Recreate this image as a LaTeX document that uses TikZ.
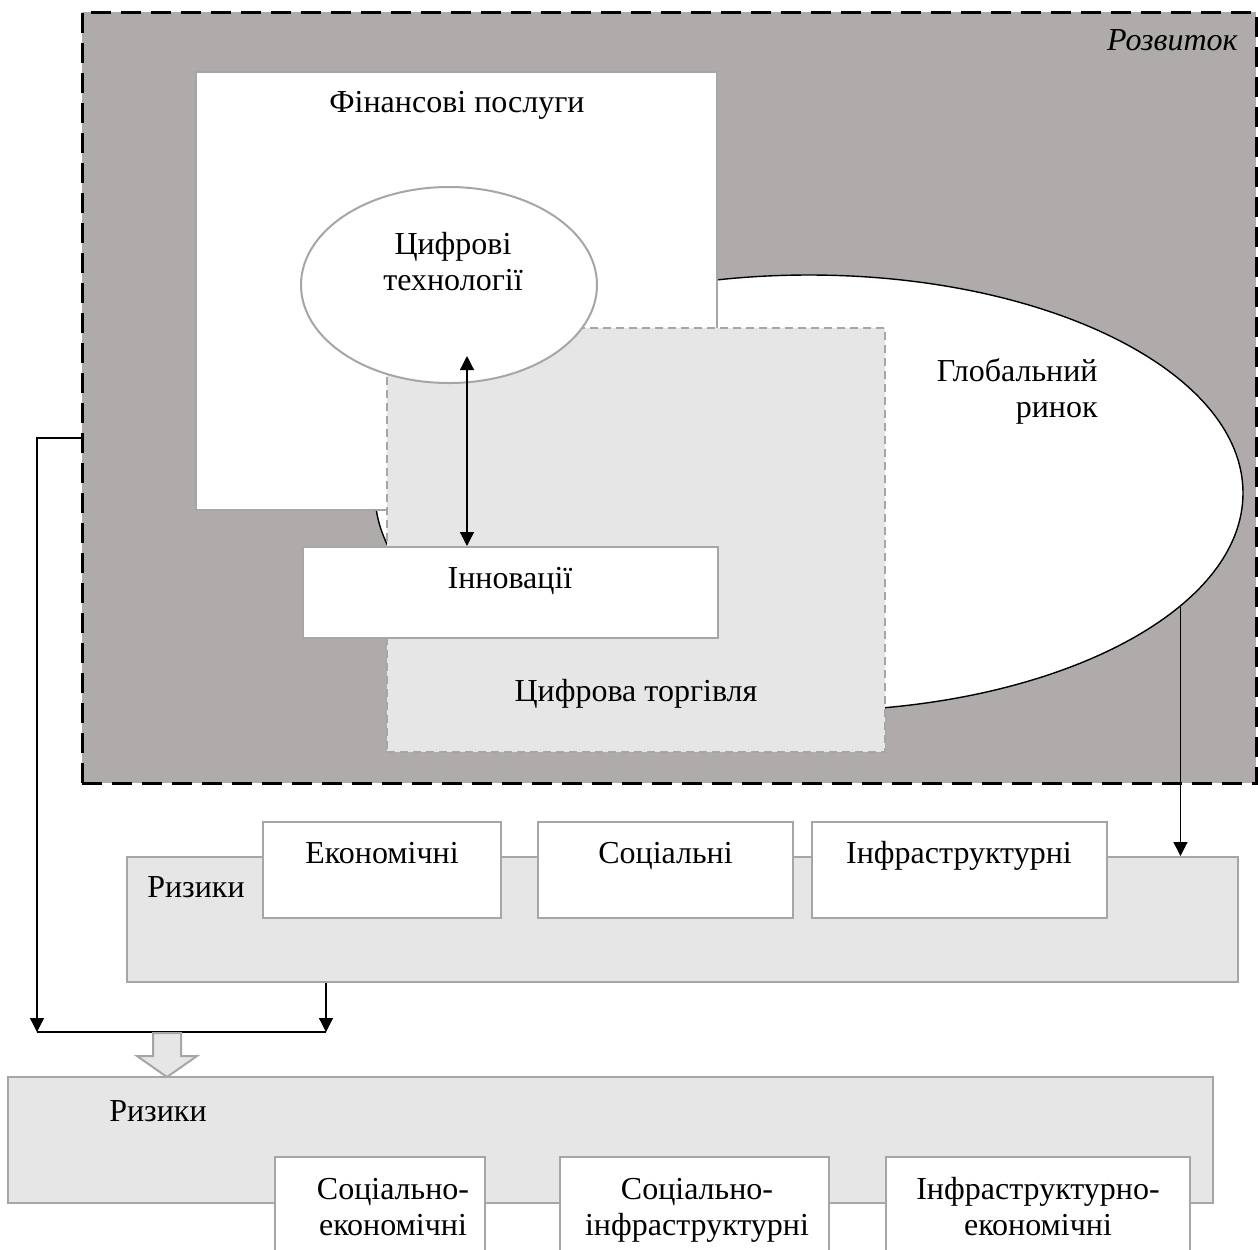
\documentclass[tikz,border=0pt]{standalone}
\usepackage{fontspec}
\setmainfont{Liberation Serif}
\usetikzlibrary{arrows.meta,shapes.geometric,positioning}
\definecolor{devgray}{RGB}{175,171,171}
\definecolor{lightfill}{RGB}{230,230,230}
\definecolor{edgegray}{RGB}{166,166,166}
\tikzset{
	box/.style = {draw = edgegray, line width = 1pt, fill = white, inner sep = 0pt},
	riskbox/.style = {box, fill = lightfill},
	txt/.style = {font = \fontsize{16}{18}\selectfont, align = center, inner sep = 0pt},
	oneline/.style = {txt, text height = 11pt, text depth = 3.5pt},
	tip/.style = {-{Triangle[length = 7pt, width = 7pt]}, line width = 0.6pt},
}
\begin{document}
\begin{tikzpicture}[x = 0.5pt, y = -0.5pt]
		\clip (0, 0) rectangle (1258, 1249);
		% development area
		\node[draw, fill = devgray, line width = 1.5pt, dash pattern = on 10pt off 5pt, minimum width = 587pt, minimum height = 385.5pt, inner sep = 0pt] (dev) at (669, 397.5) {};
		\node[oneline, anchor = east, font = \fontsize{16}{18}\selectfont\itshape] (devtxt) at (1238, 42.5) {Розвиток};
		% global market
		\node[draw, fill = white, ellipse, line width = 0.7pt, minimum width = 434pt, minimum height = 218pt, inner sep = 0pt] (glob) at (809, 493) {};
		\node[txt, anchor = east, align = right] (globtxt) at (1098, 391) {Глобальний\\ринок};
		% financial services
		\node[box, minimum width = 260.5pt, minimum height = 219pt] (fin) at (456.5, 291) {};
		\node[oneline] (fintxt) at (457, 104.5) {Фінансові послуги};
		% digital trade
		\node[box, fill = lightfill, dash pattern = on 4pt off 2.5pt, minimum width = 249pt, minimum height = 212pt] (trade) at (636, 540) {};
		\node[oneline] (tradetxt) at (636, 693.5) {Цифрова торгівля};
		% digital technologies
		\node[box, ellipse, minimum width = 148pt, minimum height = 98pt] (tech) at (449, 285) {};
		\node[txt] (techtxt) at (453, 262) {Цифрові\\технології};
		% innovations
		\node[box, minimum width = 207.5pt, minimum height = 45.5pt] (innov) at (510.5, 592.5) {};
		\node[oneline] (innovtxt) at (510, 580.5) {Інновації};
		\coordinate (link) at (467, 356);
		\draw[line width = 0.6pt, {Triangle[length = 7pt, width = 7pt]}-{Triangle[length = 7pt, width = 7pt]}] (link) -- (link |- innov.north);
		% risks
		\node[riskbox, minimum width = 555.5pt, minimum height = 62.5pt] (risk) at (682.5, 919.5) {};
		\node[oneline] (risktxt) at (196, 889.5) {Ризики};
		\node[box, minimum width = 119pt, minimum height = 48pt] (econ) at (382, 870) {};
		\node[box, minimum width = 127.5pt, minimum height = 48pt] (soc) at (665.5, 870) {};
		\node[box, minimum width = 147.5pt, minimum height = 48pt] (infra) at (959.5, 870) {};
		\node[oneline] (econtxt) at (382, 855.5) {Економічні};
		\node[oneline] (soctxt) at (665.5, 855.5) {Соціальні};
		\node[oneline] (infratxt) at (959, 855.5) {Інфраструктурні};
		\draw[tip] (glob.-17.7) -- (glob.-17.7 |- risk.north);
		% joining lines
		\coordinate (jl) at (37, 1032);
		\coordinate (jr) at (326, 1032);
		\draw[tip] ([yshift = -20.25pt]dev.west) -| (jl);
		\draw[tip] (risk.south -| jr) -- (jr);
		\draw[line width = 0.6pt] (jl) -- (jr);
		% combined risks
		\draw[draw = edgegray, fill = lightfill, line width = 1pt] (153, 1033) -- (181, 1033) -- (181, 1056) -- (197, 1056) -- (167, 1077) -- (137, 1056) -- (153, 1056) -- cycle;
		\node[riskbox, minimum width = 602.5pt, minimum height = 63pt] (risk2) at (610.5, 1140) {};
		\node[oneline] (risk2txt) at (158, 1113.5) {Ризики};
		\node[box, minimum width = 105pt, minimum height = 51.5pt] (soecon) at (380, 1208.5) {};
		\node[box, minimum width = 134.5pt, minimum height = 51.5pt] (soinfra) at (694.5, 1208.5) {};
		\node[box, minimum width = 152pt, minimum height = 51.5pt] (infraecon) at (1038, 1208.5) {};
		\node[txt] (soecontxt) at (393, 1210) {\strut Соціально-\\\strut економічні};
		\node[txt] (soinfratxt) at (697, 1210) {\strut Соціально-\\\strut інфраструктурні};
		\node[txt] (infraecontxt) at (1038, 1210) {\strut Інфраструктурно-\\\strut економічні};
	\end{tikzpicture}
\end{document}
